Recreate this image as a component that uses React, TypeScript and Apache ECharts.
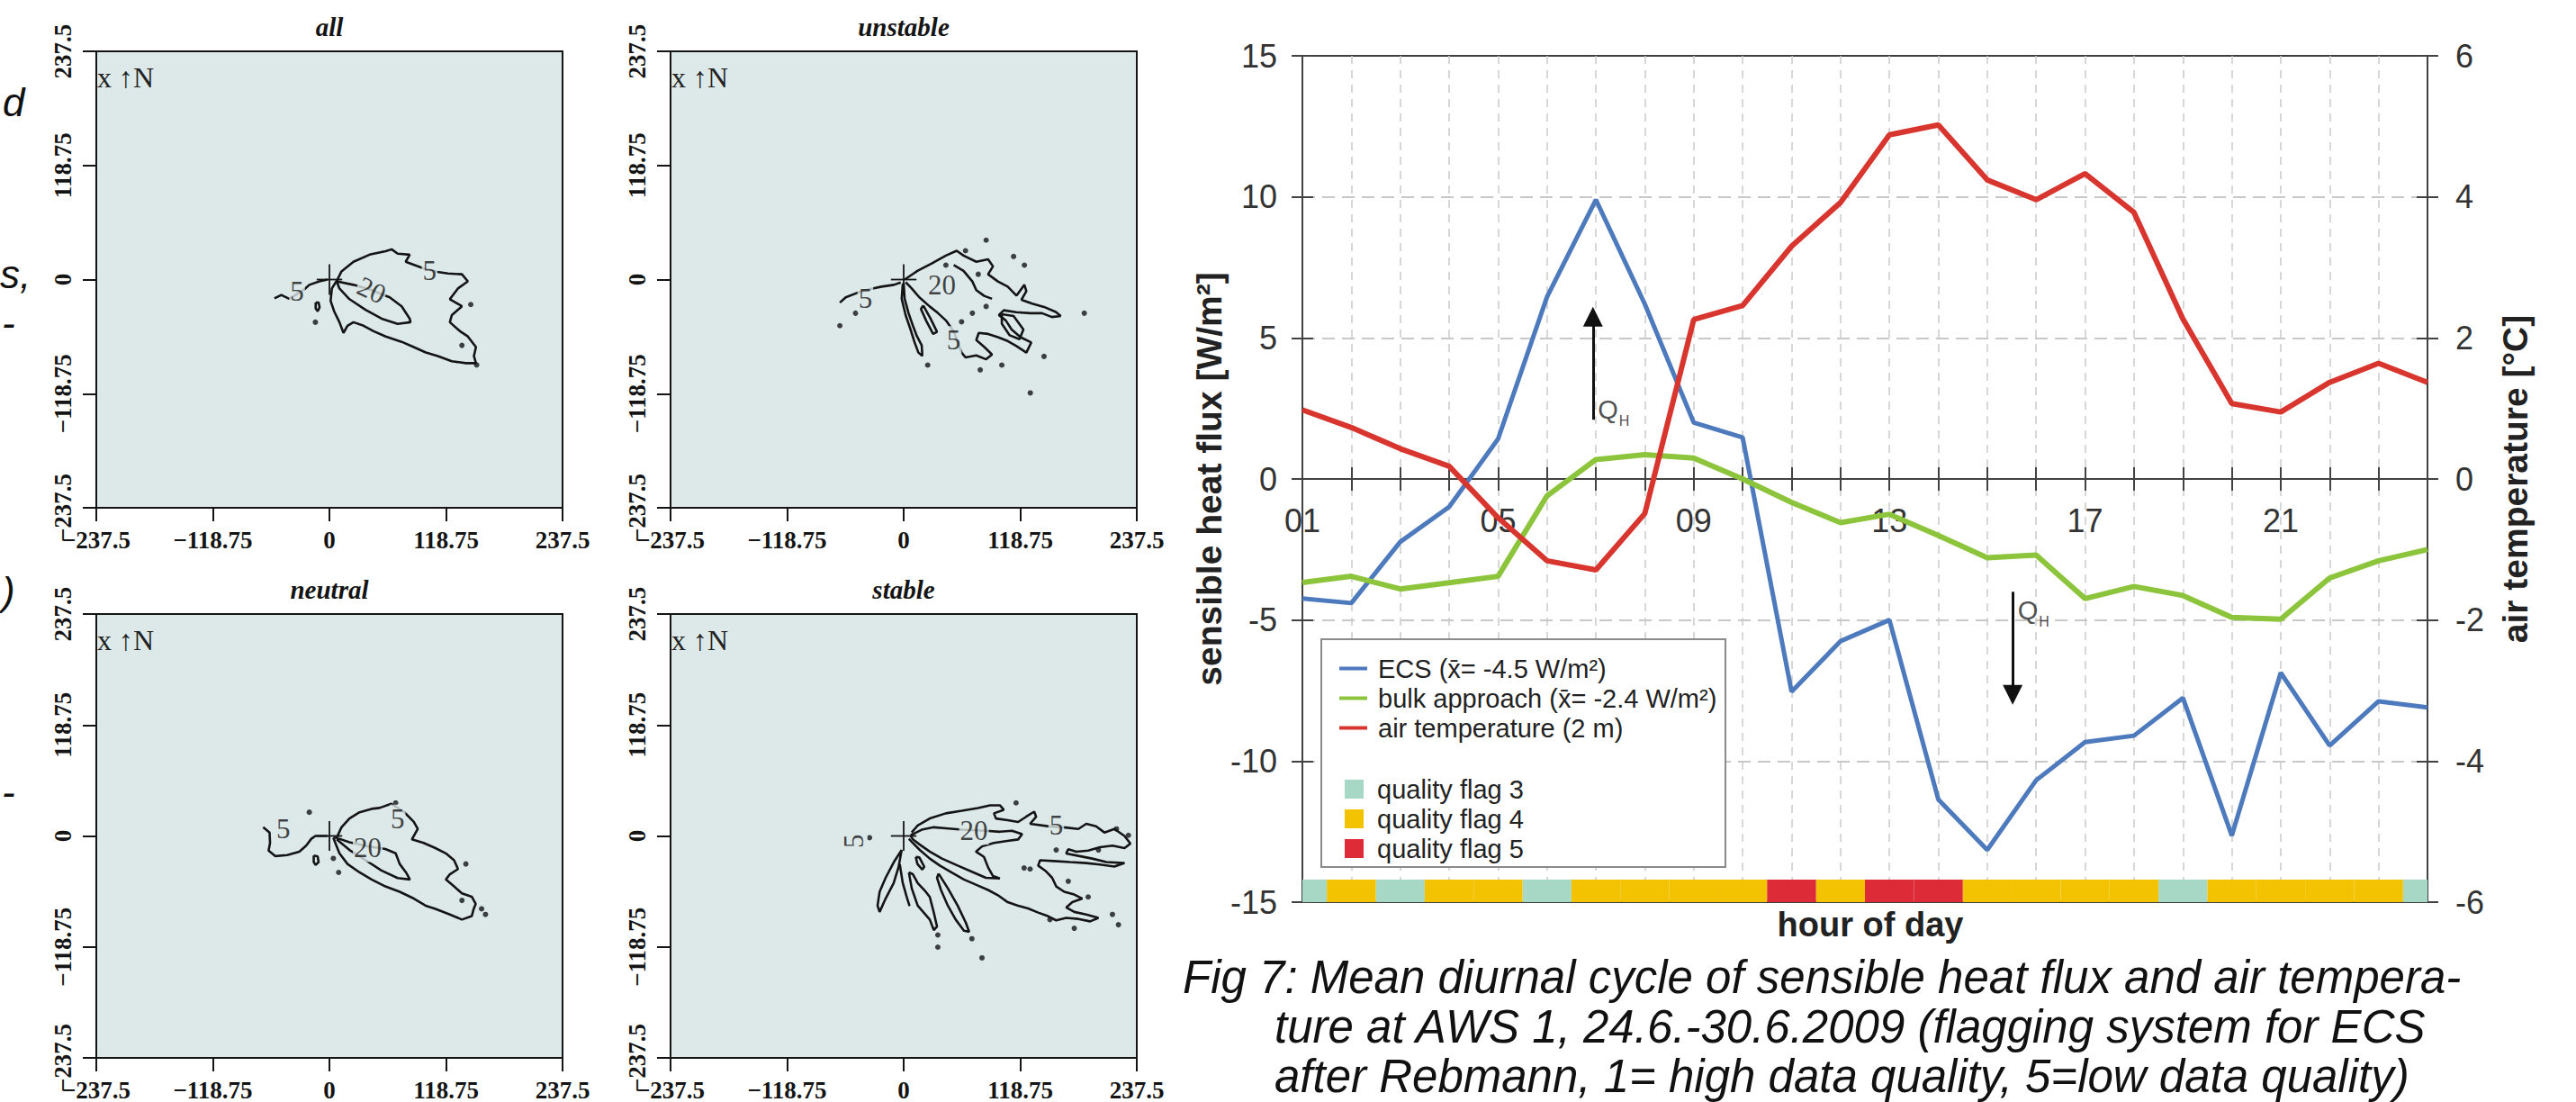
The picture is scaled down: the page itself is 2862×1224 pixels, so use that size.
import { useEffect, useRef } from 'react';
import * as echarts from 'echarts';

// ---------------- right chart data ----------------
const HOURS = [1, 2, 3, 4, 5, 6, 7, 8, 9, 10, 11, 12, 13, 14, 15, 16, 17, 18, 19, 20, 21, 22, 23, 24];
const HOUR_LABELS = ['01', '05', '09', '13', '17', '21'];
const ECS = [-4.24, -4.4, -2.23, -0.99, 1.42, 6.45, 9.9, 6.2, 2.0, 1.47, -7.54, -5.75, -5.0, -11.36, -13.15, -10.68, -9.33, -9.1, -7.76, -12.64, -6.87, -9.45, -7.88, -8.1];
const BULK = [-3.67, -3.45, -3.9, -3.68, -3.45, -0.6, 0.69, 0.86, 0.74, 0.0, -0.83, -1.55, -1.25, -2.0, -2.79, -2.7, -4.24, -3.81, -4.13, -4.91, -4.97, -3.51, -2.9, -2.5];
const AIR_TEMP = [0.98, 0.73, 0.43, 0.18, -0.55, -1.16, -1.29, -0.49, 2.26, 2.46, 3.3, 3.92, 4.88, 5.02, 4.24, 3.96, 4.33, 3.78, 2.27, 1.07, 0.95, 1.37, 1.64, 1.37];
const QUALITY_FLAGS = [3, 4, 3, 4, 4, 3, 4, 4, 4, 4, 5, 4, 5, 5, 4, 4, 4, 4, 3, 4, 4, 4, 4, 3];
const FLAG_LEVELS = [3, 4, 5];
const FLAG_BAR = [-15, -14.2];
const FLUX_TICKS = [-15, -10, -5, 0, 5, 10, 15];
const TEMP_TICKS = [-6, -4, -2, 0, 2, 4, 6];
const QH_ARROWS = [
  { hour: 6.94, from: 2.1, to: 5.75, labelAt: 2.5 },
  { hour: 15.52, from: -4.0, to: -7.65, labelAt: -4.6 },
];
const NAME_ECS = 'ECS (x\u0304= -4.5 W/m\u00b2)';
const NAME_BULK = 'bulk approach (x\u0304= -2.4 W/m\u00b2)';
const NAME_AIR = 'air temperature (2 m)';

// ---------------- footprint panels data (metres) ----------------
const FOOT_TICKS = [-237.5, -118.75, 0, 118.75, 237.5];
const PANEL_TITLES = ['all', 'unstable', 'neutral', 'stable'];

const ALL_WEST = [[-56, -19.6], [-49, -16], [-41, -20], [-35.6, -16.7], [-30, -13], [-25.4, -10], [-20.5, -5.5], [-10.2, -1.9], [-2, 0]];
const ALL_OUTER = [[8.2, 0], [12.3, 8.5], [24.5, 18.5], [40.9, 25.9], [57.3, 29.6], [63.4, 31.5], [69.5, 27], [81.8, 25.9], [77.7, 18.5], [95, 12], [110, 8], [120.7, 6.3], [135, 5.5], [141, -1.9], [130.9, -9.3], [122.7, -20.4], [135, -27.8], [124.7, -37], [122.7, -44.4], [133, -53.7], [141, -59.2], [149.3, -70.3], [147.2, -79.6], [149.3, -87], [139, -87], [124.7, -85], [110.4, -79.6], [98.2, -75.9], [85.9, -70.3], [73.6, -64.8], [57.3, -59.2], [45, -53.7], [34.8, -48.1], [24.5, -44.4], [18.4, -48.1], [14.3, -55.5], [10.2, -44.4], [4.9, -33.3], [1.2, -22.2], [2.5, -9.3], [8.2, 0]];
const ALL_INNER = [[7.4, -1.9], [24.5, -5.5], [43, -11], [61.4, -18.5], [73.6, -27.8], [81.8, -40.7], [82.6, -44.4], [69.5, -46.2], [53.2, -40.7], [36.8, -31.5], [20.4, -20.4], [10.2, -9.3], [7.4, -1.9]];
const ALL_LOOP = [[-14, -24], [-11, -24], [-10, -29], [-12, -33], [-14, -30], [-14, -24]];
const ALL_DOTS = [[-14.3, -44.4], [144, -26], [135, -68.5], [150, -88.8]];
const ALL_LABELS = [[-33, -12, '5', 0], [102, 9, '5', 0], [43, -11, '20', -25]];

const UNST_WEST = [[-65, -24], [-59, -18.5], [-47, -13.7], [-35, -10], [-22.5, -7.4], [-10, -5.5], [-3, -3]];
const UNST_MAIN = [[1, 0], [14, 9], [29, 17], [43, 25], [54, 30], [61, 25], [74, 18.5], [86, 21], [91, 13.7], [86, 5.5], [96, -2], [106, -7.4], [115, -16.7], [123, -5.5], [125, -12], [120, -21], [131, -25], [143, -28.5], [155, -33.7], [160, -38], [151, -39], [141, -35], [129, -35], [114.5, -34], [102, -32], [97, -37], [104, -42.5], [110, -52], [119, -60], [130, -65.5], [125, -76], [114.5, -69], [106, -64], [96, -60], [86, -56.6], [76.5, -55.5], [74, -63], [82, -70], [90, -78], [84, -83], [74, -79], [63, -81], [59, -76], [51, -54], [43, -42.5], [35, -35], [26.5, -28], [16, -18.5], [8, -9], [2, -2.6]];
const UNST_LOBE1 = [[0, -4], [1, -20], [5, -35], [9.4, -48], [13.5, -59], [18.4, -68.5], [19, -79.5], [15, -76], [11, -65], [7, -52], [2, -37], [-2, -20], [-1, -5.5], [0, -4]];
const UNST_LOBE2 = [[20, -27], [27.4, -40.7], [34, -54.4], [30, -56.6], [23, -43], [17.6, -30.7], [20, -27]];
const UNST_INNER = [[51, 15], [61, 9], [70, -2], [74, -11], [82, -17], [90, -20]];
const UNST_DIAMOND = [[100, -36], [112, -38], [122, -52], [118, -62], [108, -58], [100, -46], [100, -36]];
const UNST_DOTS = [[-65, -48], [-49, -35], [84, 41], [184, -35], [143, -80], [129, -118], [24.5, -89], [78, -94], [100, -89], [43, 15], [63, 30], [112, 24], [123, 15], [76, 5.5], [84, -28], [70, -35], [59, -44]];
const UNST_LABELS = [[-39, -20, '5', 0], [39, -5.5, '20', 0], [51, -63, '5', 0]];

const NEUT_WEST = [[-67.5, 9.3], [-61, 3.7], [-60.5, -7.5], [-62, -15.7], [-55, -21.6], [-43, -20.5], [-30.7, -16.8], [-23.7, -10.4], [-18.4, -3], [-14.3, 0], [-2, 0]];
const NEUT_MAIN = [[4, -1.9], [7.4, -1.9], [12.3, 9.3], [20.4, 18.6], [30.7, 25.4], [43, 29], [51, 30], [63, 34.4], [75.7, 26], [86, 15], [90, 7.5], [84, -3.7], [96, -7.5], [108, -13], [118.6, -18.6], [127, -26], [131, -35.4], [122.7, -41], [118.6, -46.6], [127, -54], [135, -61.5], [145, -65], [149, -72.7], [147, -78], [145, -85.8], [135, -89.5], [122.7, -84], [108, -78], [98, -74.6], [86, -67], [71.6, -59.7], [57, -54], [43, -46.6], [30.7, -39], [18.4, -30], [10.2, -18.6], [6, -7.5], [4, -1.9]];
const NEUT_INNER = [[7.4, -3.7], [20.4, -15], [37, -26], [53, -37], [69.5, -45], [82, -46.6], [78, -39], [71.6, -30], [67.5, -18.6], [57, -14], [39, -11], [20.4, -6.7], [10, -3], [7.4, -3.7]];
const NEUT_LOOP = [[-16, -21], [-12, -22], [-11, -28], [-14, -31], [-16, -28], [-16, -21]];
const NEUT_DOTS = [[-20.5, 25.4], [4, -24], [9.4, -39], [139, -30], [135, -69], [155, -78], [159, -84], [67.5, 35.4]];
const NEUT_LABELS = [[-47, 7.5, '5', 0], [69.5, 18.6, '5', 0], [39, -13, '20', 0]];

const STAB_OUTER = [[8.2, 3.7], [14.3, 11.2], [26.6, 18.7], [43, 24.2], [59.3, 26.9], [75.7, 29.8], [88, 32.8], [98, 32.8], [102, 28], [92, 24.2], [94, 18.7], [106, 16.8], [116.6, 14.9], [124.7, 20.5], [133, 26], [135, 20.5], [128.8, 13], [150, 10], [165, 9], [178, 7.5], [186, 13], [196, 10.4], [204.5, 3.7], [214.7, 7.5], [225, 0], [231, -8.2], [225, -13], [212.7, -10.4], [200, -12], [188, -15.7], [176, -16.8], [167.7, -14.2], [165.6, -18.7], [178, -21.3], [192, -24.2], [206.5, -28], [225, -29], [214.7, -32.8], [200, -30.6], [186, -29], [169.7, -28], [153, -26.9], [139, -26], [137, -31.7], [144.4, -37.3], [151.3, -44.8], [155.4, -54], [163.6, -59.7], [173.8, -62.7], [182, -67], [171.8, -70.9], [165.6, -76.5], [173.8, -81.3], [186, -84], [198.4, -87.7], [190, -91.4], [178, -88.8], [165.6, -87.7], [155.4, -90.3], [147, -85.8], [137, -82], [126.8, -77.6], [116.6, -74.6], [106, -70.9], [96, -63.4], [86, -57.8], [73.6, -52.2], [61.4, -46.6], [49, -39.2], [36.8, -31.7], [26.6, -24.2], [16.4, -14.9], [9.4, -7.5], [5.3, -3]];
const STAB_C20 = [[7, 0.7], [18.4, 6.7], [30.7, 9.3], [43, 8.2], [59.3, 6.7], [83.8, 5.6], [98, 4.5], [110.4, 5.6], [120.7, 1.9], [116.6, -3.7], [104, -5.6], [92, -7.5], [79.8, -11.2], [73.6, -16.8], [81.8, -22.4], [86, -33.6], [91, -42.9], [98, -45.5], [83.8, -44.8], [71.6, -39.2], [55, -31.7], [39, -24.2], [26.6, -16.8], [16.4, -9.3], [9.4, -3.7], [7, 0.7]];
const STAB_FINGER1 = [[-2, -15], [-10, -28], [-18.4, -44.8], [-24.5, -59.7], [-26.6, -74.6], [-24.5, -81.3], [-18.4, -67], [-10.2, -50.4], [-5.3, -33.6], [-2, -15]];
const STAB_FINGER1_IN = [[-4, -30], [-1, -50], [3, -65], [6, -75]];
const STAB_FINGER2 = [[5.3, -39], [8.2, -56], [14.3, -74.6], [26.6, -89.5], [30.7, -100.7], [34, -97], [30.7, -82], [26.6, -65.3], [22.5, -59.7], [14.3, -50.4], [9.4, -41], [5.3, -39]];
const STAB_FINGER3 = [[35.6, -40.3], [45, -56], [55, -74.6], [63.4, -93], [66.7, -102.6], [61.4, -101.5], [53, -89.5], [45, -74.6], [38, -57.8], [34, -44.8], [35.6, -40.3]];
const STAB_LOOP = [[12.3, -22.4], [16, -23], [21, -33], [19, -36], [14, -30], [12.3, -22.4]];
const STAB_DOTS = [[114.5, 35.4], [155.4, -15], [198.4, -15], [122.7, -34.3], [128.8, -35.4], [167.7, -48.5], [188, -65.3], [149, -89.5], [173.8, -98.8], [218.8, -95], [212.7, -84], [34.8, -106], [34.8, -119], [69.5, -110], [79.8, -130.5], [-34.8, -1.9], [229, 0.7], [216.8, 7.5]];
const STAB_LABELS = [[-51, -5.6, '5', 90], [71.6, 5.6, '20', 0], [155.4, 11.2, '5', 0]];

const PANEL_LINES = [
  [ALL_WEST, ALL_OUTER, ALL_INNER, ALL_LOOP],
  [UNST_WEST, UNST_MAIN, UNST_LOBE1, UNST_LOBE2, UNST_INNER, UNST_DIAMOND],
  [NEUT_WEST, NEUT_MAIN, NEUT_INNER, NEUT_LOOP],
  [STAB_OUTER, STAB_C20, STAB_FINGER1, STAB_FINGER1_IN, STAB_FINGER2, STAB_FINGER3, STAB_LOOP],
];
const PANEL_DOTS = [ALL_DOTS, UNST_DOTS, NEUT_DOTS, STAB_DOTS];
const PANEL_LABELS = [ALL_LABELS, UNST_LABELS, NEUT_LABELS, STAB_LABELS];

// ---------------- caption text ----------------
const CAPTION = [
  'Fig 7: Mean diurnal cycle of sensible heat flux and air tempera-',
  'ture at AWS 1, 24.6.-30.6.2009 (flagging system for ECS',
  'after Rebmann, 1= high data quality, 5=low data quality)',
];
const MARGIN_FRAGMENTS = ['d', 's,', '-', ')', '-'];

// ---------------- styling / layout ----------------
const SERIF = '"Liberation Serif", "Times New Roman", serif';
const SANS = '"Liberation Sans", Arial, Helvetica, sans-serif';
const PANEL_BG = '#dde9e9';
const INK = '#141414';
const C_BLUE = '#4d79bd';
const C_GREEN = '#8cc43c';
const C_RED = '#d8352e';
const FLAG_COLORS: Record<number, string> = { 3: '#a7d8c5', 4: '#f3c200', 5: '#dd2b37' };

const PANEL_BOXES = [
  { left: 107, top: 57, width: 518, height: 507 },
  { left: 745, top: 57, width: 518, height: 507 },
  { left: 107, top: 682, width: 518, height: 505 },
  { left: 745, top: 682, width: 518, height: 505 },
];
const CHART_BOX = { left: 1447, top: 62, width: 1250, height: 940 };

function footLabel(v: number) {
  return v < 0 ? '\u2212' + String(-v) : String(v);
}

function buildOption() {
  const grids: any[] = PANEL_BOXES.map((b) => ({
    ...b,
    show: true,
    backgroundColor: PANEL_BG,
    borderColor: INK,
    borderWidth: 2,
    containLabel: false,
  }));
  grids.push({ ...CHART_BOX, show: true, backgroundColor: '#ffffff', borderColor: '#3e3e3e', borderWidth: 2 });

  const footInterval = FOOT_TICKS[1] - FOOT_TICKS[0];
  const xAxes: any[] = PANEL_BOXES.map((_, i) => ({
    type: 'value',
    gridIndex: i,
    min: FOOT_TICKS[0],
    max: FOOT_TICKS[FOOT_TICKS.length - 1],
    interval: footInterval,
    axisLine: { show: true, onZero: false, lineStyle: { color: INK, width: 2 } },
    axisTick: { show: true, length: 15, lineStyle: { color: INK, width: 2 } },
    axisLabel: { show: true, margin: 22, formatter: footLabel, fontFamily: SERIF, fontWeight: 'bold', fontSize: 27, color: INK, showMinLabel: true, showMaxLabel: true },
    splitLine: { show: false },
  }));
  const yAxes: any[] = PANEL_BOXES.map((_, i) => ({
    type: 'value',
    gridIndex: i,
    min: FOOT_TICKS[0],
    max: FOOT_TICKS[FOOT_TICKS.length - 1],
    interval: footInterval,
    axisLine: { show: true, onZero: false, lineStyle: { color: INK, width: 2 } },
    axisTick: { show: true, length: 15, lineStyle: { color: INK, width: 2 } },
    axisLabel: { show: true, rotate: 90, margin: 24, formatter: footLabel, fontFamily: SERIF, fontWeight: 'bold', fontSize: 27, color: INK, showMinLabel: true, showMaxLabel: true },
    splitLine: { show: false },
  }));

  // chart x axes sit on the zero line of the flux axis (offset from grid edges)
  const fluxMin = FLUX_TICKS[0];
  const fluxMax = FLUX_TICKS[FLUX_TICKS.length - 1];
  const zeroFromBottom = ((0 - fluxMin) / (fluxMax - fluxMin)) * CHART_BOX.height;
  const zeroFromTop = CHART_BOX.height - zeroFromBottom;
  const axisGray = '#424242';
  xAxes.push({
    type: 'value',
    gridIndex: 4,
    position: 'bottom',
    offset: -zeroFromBottom,
    min: HOURS[0],
    max: HOURS[HOURS.length - 1],
    interval: 1,
    axisLine: { show: true, onZero: false, lineStyle: { color: axisGray, width: 2 } },
    axisTick: { show: true, length: 13, lineStyle: { color: axisGray, width: 2 } },
    axisLabel: {
      show: true,
      margin: 28,
      fontFamily: SANS,
      fontSize: 36,
      color: '#333',
      formatter: (v: number) => {
        const s = (v < 10 ? '0' : '') + String(v);
        return HOUR_LABELS.indexOf(s) >= 0 ? s : '';
      },
    },
    splitLine: { show: true, showMinLine: false, showMaxLine: false, lineStyle: { color: '#cacaca', width: 1.5, type: [9, 7] } },
  });
  xAxes.push({
    type: 'value',
    gridIndex: 4,
    position: 'top',
    offset: -zeroFromTop,
    min: HOURS[0],
    max: HOURS[HOURS.length - 1],
    interval: 1,
    axisLine: { show: false, onZero: false },
    axisTick: { show: true, length: 13, lineStyle: { color: axisGray, width: 2 } },
    axisLabel: { show: false },
    splitLine: { show: false },
  });

  const fluxAxisBase = {
    type: 'value',
    gridIndex: 4,
    min: fluxMin,
    max: fluxMax,
    interval: FLUX_TICKS[1] - FLUX_TICKS[0],
  };
  const tempAxisBase = {
    type: 'value',
    gridIndex: 4,
    min: TEMP_TICKS[0],
    max: TEMP_TICKS[TEMP_TICKS.length - 1],
    interval: TEMP_TICKS[1] - TEMP_TICKS[0],
  };
  // yAxis 4: flux (left)
  yAxes.push({
    ...fluxAxisBase,
    position: 'left',
    name: 'sensible heat flux [W/m\u00b2]',
    nameLocation: 'middle',
    nameGap: 78,
    nameTextStyle: { fontFamily: SANS, fontSize: 39, fontWeight: 'bold', color: '#222' },
    axisLine: { show: true, onZero: false, lineStyle: { color: axisGray, width: 2 } },
    axisTick: { show: true, length: 12, lineStyle: { color: axisGray, width: 2 } },
    axisLabel: { show: true, margin: 28, fontFamily: SANS, fontSize: 36, color: '#333' },
    splitLine: { show: true, showMinLine: false, showMaxLine: false, lineStyle: { color: '#c8c8c8', width: 2, type: [14, 8] } },
  });
  // yAxis 5: temperature (right)
  yAxes.push({
    ...tempAxisBase,
    position: 'right',
    name: 'air temperature [\u00b0C]',
    nameLocation: 'middle',
    nameGap: 78,
    nameTextStyle: { fontFamily: SANS, fontSize: 39, fontWeight: 'bold', color: '#222' },
    axisLine: { show: true, onZero: false, lineStyle: { color: axisGray, width: 2 } },
    axisTick: { show: true, length: 12, lineStyle: { color: axisGray, width: 2 } },
    axisLabel: { show: true, margin: 31, fontFamily: SANS, fontSize: 36, color: '#333' },
    splitLine: { show: false },
  });
  // yAxis 6/7: inner tick duplicates
  yAxes.push({
    ...fluxAxisBase,
    position: 'left',
    axisLine: { show: false, onZero: false },
    axisTick: { show: true, inside: true, length: 12, lineStyle: { color: axisGray, width: 2 } },
    axisLabel: { show: false },
    splitLine: { show: false },
  });
  yAxes.push({
    ...tempAxisBase,
    position: 'right',
    axisLine: { show: false, onZero: false },
    axisTick: { show: true, inside: true, length: 12, lineStyle: { color: axisGray, width: 2 } },
    axisLabel: { show: false },
    splitLine: { show: false },
  });

  const series: any[] = [];

  // footprint panels
  PANEL_LINES.forEach((lines, i) => {
    lines.forEach((pts, j) => {
      series.push({
        type: 'line',
        name: `fp-${i}-${j}`,
        xAxisIndex: i,
        yAxisIndex: i,
        data: pts,
        symbol: 'none',
        showSymbol: false,
        silent: true,
        clip: true,
        lineStyle: { color: INK, width: 2.6 },
        z: 3,
      });
    });
    series.push({
      type: 'line',
      name: `cross-h-${i}`,
      xAxisIndex: i,
      yAxisIndex: i,
      data: [[-13, 0], [13, 0]],
      symbol: 'none',
      silent: true,
      lineStyle: { color: INK, width: 1.8 },
      z: 3,
    });
    series.push({
      type: 'line',
      name: `cross-v-${i}`,
      xAxisIndex: i,
      yAxisIndex: i,
      data: [[0, -16], [0, 16]],
      symbol: 'none',
      silent: true,
      lineStyle: { color: INK, width: 1.8 },
      z: 3,
    });
    series.push({
      type: 'scatter',
      name: `dots-${i}`,
      xAxisIndex: i,
      yAxisIndex: i,
      data: PANEL_DOTS[i],
      symbolSize: 6,
      silent: true,
      itemStyle: { color: INK },
      z: 3,
    });
    series.push({
      type: 'scatter',
      name: `labels-${i}`,
      xAxisIndex: i,
      yAxisIndex: i,
      data: PANEL_LABELS[i].map((l) => ({
        value: [l[0], l[1]],
        label: { formatter: String(l[2]), rotate: l[3] as number },
      })),
      symbolSize: 1,
      silent: true,
      itemStyle: { color: 'rgba(0,0,0,0)' },
      label: {
        show: true,
        position: 'inside',
        fontFamily: SERIF,
        fontSize: 31,
        color: INK,
        backgroundColor: PANEL_BG,
        padding: [0, 1],
      },
      z: 4,
    });
  });

  // quality flag bar
  FLAG_LEVELS.forEach((f) => {
    series.push({
      type: 'custom',
      name: `quality flag ${f}`,
      xAxisIndex: 4,
      yAxisIndex: 4,
      data: HOURS.filter((_, i) => QUALITY_FLAGS[i] === f).map((h) => [h, FLAG_BAR[0]]),
      encode: { x: 0, y: 1 },
      itemStyle: { color: FLAG_COLORS[f] },
      silent: true,
      z: 2,
      renderItem: (params: any, api: any) => {
        const h = api.value(0);
        const p0 = api.coord([h - 0.5, FLAG_BAR[0]]);
        const p1 = api.coord([h + 0.5, FLAG_BAR[1]]);
        const rect = echarts.graphic.clipRectByRect(
          { x: p0[0], y: p1[1], width: p1[0] - p0[0], height: p0[1] - p1[1] },
          { x: params.coordSys.x, y: params.coordSys.y, width: params.coordSys.width, height: params.coordSys.height }
        );
        return rect && { type: 'rect', shape: rect, style: { fill: FLAG_COLORS[f] } };
      },
    });
  });

  series.push({
    type: 'line',
    name: NAME_ECS,
    xAxisIndex: 4,
    yAxisIndex: 4,
    data: HOURS.map((h, i) => [h, ECS[i]]),
    symbol: 'none',
    lineStyle: { color: C_BLUE, width: 5 },
    itemStyle: { color: C_BLUE },
    z: 5,
  });
  series.push({
    type: 'line',
    name: NAME_BULK,
    xAxisIndex: 4,
    yAxisIndex: 4,
    data: HOURS.map((h, i) => [h, BULK[i]]),
    symbol: 'none',
    lineStyle: { color: C_GREEN, width: 6 },
    itemStyle: { color: C_GREEN },
    z: 5,
  });
  series.push({
    type: 'line',
    name: NAME_AIR,
    xAxisIndex: 4,
    yAxisIndex: 5,
    data: HOURS.map((h, i) => [h, AIR_TEMP[i]]),
    symbol: 'none',
    lineStyle: { color: C_RED, width: 6 },
    itemStyle: { color: C_RED },
    z: 5,
  });

  // QH arrows & labels
  series.push({
    type: 'scatter',
    name: 'qh-annotations',
    xAxisIndex: 4,
    yAxisIndex: 4,
    data: QH_ARROWS.map((a) => [a.hour, a.labelAt]),
    symbolSize: 1,
    silent: true,
    itemStyle: { color: 'rgba(0,0,0,0)' },
    label: {
      show: true,
      position: 'right',
      distance: 5,
      formatter: '{q|Q}{h|H}',
      rich: {
        q: { fontFamily: SANS, fontSize: 29, color: '#222', lineHeight: 32, verticalAlign: 'bottom' },
        h: { fontFamily: SANS, fontSize: 16, color: '#222', lineHeight: 32, verticalAlign: 'bottom', padding: [0, 0, -6, 1] },
      },
    },
    markLine: {
      silent: true,
      symbol: ['none', 'triangle'],
      symbolSize: 22,
      label: { show: false },
      lineStyle: { color: '#111', width: 3, type: 'solid' },
      itemStyle: { color: '#111' },
      emphasis: { disabled: true },
      data: QH_ARROWS.map((a) => [{ coord: [a.hour, a.from] }, { coord: [a.hour, a.to] }]),
    },
    z: 6,
  });

  const graphic: any[] = [];
  // panel titles and north marks
  PANEL_BOXES.forEach((b, i) => {
    graphic.push({
      type: 'text',
      z: 10,
      style: {
        text: PANEL_TITLES[i],
        x: b.left + b.width / 2,
        y: b.top - 27,
        align: 'center',
        verticalAlign: 'middle',
        fontFamily: SERIF,
        fontSize: 29,
        fontWeight: 'bold',
        fontStyle: 'italic',
        fill: INK,
      },
    });
    graphic.push({
      type: 'text',
      z: 10,
      style: {
        text: 'x \u2191N',
        x: b.left + 1,
        y: b.top + 29,
        align: 'left',
        verticalAlign: 'middle',
        fontFamily: SERIF,
        fontSize: 32,
        fill: '#222',
      },
    });
  });
  // legend box
  graphic.push({
    type: 'rect',
    z: 3,
    shape: { x: 1468, y: 710, width: 449, height: 253 },
    style: { fill: '#ffffff', stroke: '#8a8a8a', lineWidth: 2 },
  });
  // x axis title
  graphic.push({
    type: 'text',
    z: 10,
    style: {
      text: 'hour of day',
      x: CHART_BOX.left + CHART_BOX.width / 2 + 6,
      y: 1027,
      align: 'center',
      verticalAlign: 'middle',
      fontFamily: SANS,
      fontSize: 38,
      fontWeight: 'bold',
      fill: '#222',
    },
  });
  // caption
  const capX = [1314, 1416, 1416];
  const capY = [1085, 1140, 1195];
  CAPTION.forEach((line, i) => {
    graphic.push({
      type: 'text',
      z: 10,
      style: {
        text: line,
        x: capX[i],
        y: capY[i],
        align: 'left',
        verticalAlign: 'middle',
        fontFamily: SANS,
        fontSize: 51,
        lineHeight: 50,
        fontStyle: 'italic',
        fill: '#111',
      },
    });
  });
  // fragments of neighbouring text at the left edge
  const fragX = [3, 0, 2, 2, 2];
  const fragY = [113, 304, 358, 656, 879];
  MARGIN_FRAGMENTS.forEach((t, i) => {
    graphic.push({
      type: 'text',
      z: 10,
      style: {
        text: t,
        x: fragX[i],
        y: fragY[i],
        align: 'left',
        verticalAlign: 'middle',
        fontFamily: SANS,
        fontSize: 44,
        lineHeight: 30,
        fontStyle: 'italic',
        fill: '#111',
      },
    });
  });

  return {
    animation: false,
    backgroundColor: '#ffffff',
    grid: grids,
    xAxis: xAxes,
    yAxis: yAxes,
    legend: [
      {
        data: [NAME_ECS, NAME_BULK, NAME_AIR],
        orient: 'vertical',
        left: 1483,
        top: 723,
        icon: 'rect',
        itemWidth: 31,
        itemHeight: 4,
        itemGap: 4,
        selectedMode: false,
        z: 5,
        textStyle: { fontFamily: SANS, fontSize: 29, color: '#222', lineHeight: 29, padding: [0, 0, 0, 7] },
      },
      {
        data: FLAG_LEVELS.map((f) => `quality flag ${f}`),
        orient: 'vertical',
        left: 1489,
        top: 857,
        icon: 'rect',
        itemWidth: 21,
        itemHeight: 21,
        itemGap: 4,
        selectedMode: false,
        z: 5,
        textStyle: { fontFamily: SANS, fontSize: 29, color: '#222', lineHeight: 29, padding: [0, 0, 0, 10] },
      },
    ],
    graphic: { elements: graphic },
    series,
  };
}

export default function App() {
  const ref = useRef<HTMLDivElement>(null);
  useEffect(() => {
    if (!ref.current) return;
    const chart = echarts.init(ref.current, null, { renderer: 'svg' });
    chart.setOption(buildOption() as any);
    return () => chart.dispose();
  }, []);
  return (
    <div
      ref={ref}
      style={{ position: 'absolute', left: 0, top: 0, width: 2862, height: 1224, background: '#ffffff' }}
    />
  );
}
